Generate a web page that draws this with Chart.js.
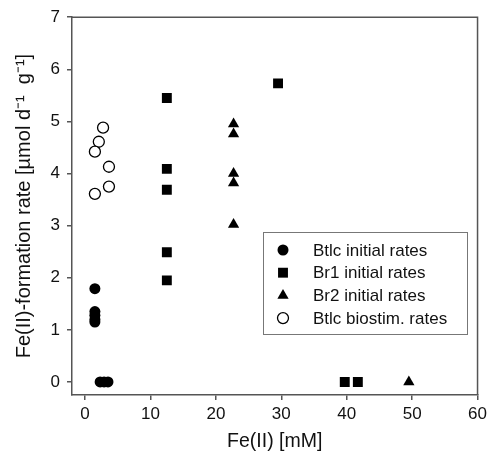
<!DOCTYPE html>
<html>
<head>
<meta charset="utf-8">
<script src="https://cdn.jsdelivr.net/npm/chart.js@4.4.1/dist/chart.umd.min.js"></script>
<style>
	html, body { margin: 0; padding: 0; background: #fff; }
	canvas { display: block; }
</style>
</head>
<body>
<canvas id="rateChart" width="491" height="453"></canvas>
<script>
// Fe(II) [mM] (x) and Fe(II)-formation rate (y) per series
const btlcInitialX = [1.5, 1.5, 1.5, 1.5, 1.5, 2.3, 2.9, 3.5];
const btlcInitialY = [1.79, 1.35, 1.28, 1.2, 1.15, 0, 0, 0];

const br1InitialX = [12.5, 12.5, 12.5, 12.5, 12.5, 29.5, 39.7, 41.7];
const br1InitialY = [5.45, 4.09, 3.69, 2.49, 1.95, 5.73, 0, 0];

const br2InitialX = [22.7, 22.7, 22.7, 22.7, 22.7, 49.5];
const br2InitialY = [4.95, 4.76, 4.0, 3.82, 3.02, 0];

const btlcBiostimX = [2.75, 2.1, 1.5, 3.65, 3.65, 1.5];
const btlcBiostimY = [4.88, 4.61, 4.42, 4.13, 3.75, 3.61];

const seriesLabels = ['Btlc initial rates', 'Br1 initial rates', 'Br2 initial rates', 'Btlc biostim. rates'];
const xTicks = [0, 10, 20, 30, 40, 50, 60];
const yTicks = [0, 1, 2, 3, 4, 5, 6, 7];

function toPoints(xs, ys) {
	return xs.map((x, i) => ({ x: x, y: ys[i] }));
}

const axisColor = '#555';
const textColor = '#111';

Chart.defaults.font.family = '"Liberation Sans", Arial, sans-serif';
Chart.defaults.color = textColor;

// box around the plot area (top and right edges)
const frameBox = {
	id: 'frameBox',
	afterDraw(chart) {
		const ca = chart.chartArea;
		const ctx = chart.ctx;
		ctx.save();
		ctx.strokeStyle = axisColor;
		ctx.lineWidth = 1.5;
		ctx.beginPath();
		ctx.moveTo(ca.left, ca.top);
		ctx.lineTo(ca.right, ca.top);
		ctx.lineTo(ca.right, ca.bottom);
		ctx.stroke();
		ctx.restore();
	}
};

// legend drawn inside the plot area, like the original figure
const insideLegend = {
	id: 'insideLegend',
	afterDraw(chart) {
		const ctx = chart.ctx;
		const boxX = 263, boxY = 232, boxW = 204, boxH = 102;
		ctx.save();
		ctx.fillStyle = '#fff';
		ctx.fillRect(boxX, boxY, boxW, boxH);
		ctx.strokeStyle = '#777';
		ctx.lineWidth = 1;
		ctx.strokeRect(boxX + 0.5, boxY + 0.5, boxW, boxH);
		ctx.font = '17px "Liberation Sans", Arial, sans-serif';
		ctx.textBaseline = 'middle';
		chart.data.datasets.forEach((ds, i) => {
			const y = boxY + 18 + i * 22.7;
			ctx.fillStyle = ds.backgroundColor;
			ctx.strokeStyle = ds.borderColor;
			ctx.lineWidth = ds.borderWidth || 0;
			Chart.helpers.drawPoint(ctx, {
				pointStyle: ds.pointStyle,
				radius: ds.pointRadius,
				rotation: 0,
				borderWidth: ds.borderWidth
			}, boxX + 20, y);
			ctx.fillStyle = textColor;
			ctx.fillText(ds.label, boxX + 50, y + 1);
		});
		ctx.restore();
	}
};

new Chart(document.getElementById('rateChart').getContext('2d'), {
	type: 'scatter',
	data: {
		datasets: [{
			label: seriesLabels[0],
			data: toPoints(btlcInitialX, btlcInitialY),
			pointStyle: 'circle',
			pointRadius: 5.5,
			backgroundColor: '#000',
			borderColor: '#000',
			borderWidth: 0
		}, {
			label: seriesLabels[1],
			data: toPoints(br1InitialX, br1InitialY),
			pointStyle: 'rect',
			pointRadius: 7,
			backgroundColor: '#000',
			borderColor: '#000',
			borderWidth: 0
		}, {
			label: seriesLabels[2],
			data: toPoints(br2InitialX, br2InitialY),
			pointStyle: 'triangle',
			pointRadius: 6.5,
			backgroundColor: '#000',
			borderColor: '#000',
			borderWidth: 0
		}, {
			label: seriesLabels[3],
			data: toPoints(btlcBiostimX, btlcBiostimY),
			pointStyle: 'circle',
			pointRadius: 5.5,
			backgroundColor: '#fff',
			borderColor: '#000',
			borderWidth: 1.3
		}]
	},
	options: {
		responsive: false,
		animation: false,
		events: [],
		layout: {
			padding: { top: 16, right: 13, left: 0, bottom: 0 }
		},
		scales: {
			x: {
				type: 'linear',
				min: -2,
				max: 60,
				afterFit(scale) { scale.height = 58; },
				afterBuildTicks(scale) { scale.ticks = xTicks.map(v => ({ value: v })); },
				ticks: {
					stepSize: 10,
					includeBounds: false,
					padding: 4,
					font: { size: 17 },
					color: textColor
				},
				grid: {
					display: true,
					drawOnChartArea: false,
					drawTicks: true,
					tickLength: 5,
					color: axisColor,
					lineWidth: 1.5
				},
				border: { display: true, color: axisColor, width: 1.5 },
				title: {
					display: true,
					text: 'Fe(II) [mM]',
					font: { size: 19.5 },
					color: textColor,
					padding: { top: 0, bottom: 0 }
				}
			},
			y: {
				type: 'linear',
				min: -0.25,
				max: 7,
				afterFit(scale) { scale.width = 72; },
				afterBuildTicks(scale) { scale.ticks = yTicks.map(v => ({ value: v })); },
				ticks: {
					stepSize: 1,
					includeBounds: false,
					padding: 7,
					font: { size: 17 },
					color: textColor
				},
				grid: {
					display: true,
					drawOnChartArea: false,
					drawTicks: true,
					tickLength: 5,
					color: axisColor,
					lineWidth: 1.5
				},
				border: { display: true, color: axisColor, width: 1.5 },
				title: {
					display: true,
					text: 'Fe(II)-formation rate [µmol d⁻¹  g⁻¹]',
					font: { size: 20 },
					color: textColor,
					padding: { top: 12, bottom: 0 }
				}
			}
		},
		plugins: {
			legend: { display: false },
			tooltip: { enabled: false }
		}
	},
	plugins: [frameBox, insideLegend]
});
</script>
</body>
</html>
